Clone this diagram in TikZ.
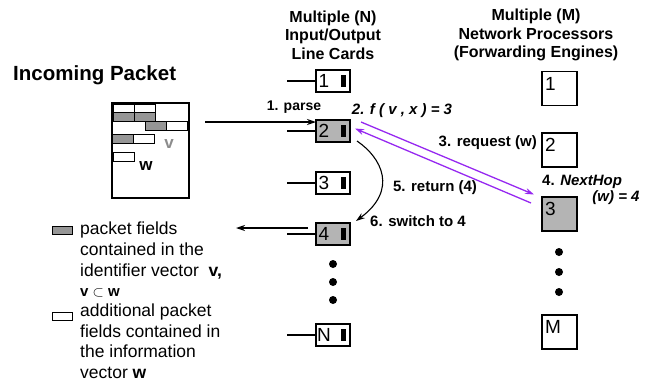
\documentclass[tikz,border=0pt]{standalone}
\usepackage{fontspec}
\setmainfont{Liberation Sans}
\usetikzlibrary{arrows.meta}
\definecolor{cardgray}{RGB}{180,180,180}
\definecolor{fieldgray}{RGB}{150,150,150}
\definecolor{vgray}{RGB}{140,140,140}
\definecolor{purp}{RGB}{150,40,240}
\newcommand{\fs}[2]{\fontsize{#1}{#2}\selectfont}
\tikzset{
  card/.style={draw, line width=1.2pt, minimum width=34pt, minimum height=22pt, inner sep=0pt},
  npbox/.style={draw, line width=1.2pt, minimum width=35pt, minimum height=34pt, inner sep=0pt},
  num/.style={inner sep=0pt, font=\fs{19}{22}},
  bar/.style={fill=black, minimum width=5pt, minimum height=12pt, inner sep=0pt},
  field/.style={draw, line width=1pt, minimum width=21pt, minimum height=9pt, inner sep=0pt},
  stub/.style={line width=1.6pt},
  hdr/.style={align=center, font=\bfseries\fs{16}{18.5}, inner sep=0pt},
  lbl/.style={font=\bfseries\fs{15}{18}, inner sep=0pt},
  leg/.style={align=left, anchor=north west, font=\fs{17.5}{20.8}, inner sep=0pt},
  arr/.style={line width=1.3pt, -{Stealth[length=9pt,width=6pt]}},
  parr/.style={line width=1.3pt, purp, -{Stealth[length=9pt,width=6pt]}},
  dot/.style={circle, fill=black, minimum size=8pt, inner sep=0pt}
}
\begin{document}
\begin{tikzpicture}[x=1pt,y=-1pt]
\useasboundingbox (0,0) rectangle (670,381);
% headers
\node[hdr] (hl) at (333,35) {Multiple (N)\\Input/Output\\Line Cards};
\node[hdr] (hr) at (536,35) {Multiple (M)\\Network Processors\\(Forwarding Engines)};
\node[font=\bfseries\fs{20.5}{24}, anchor=west, inner sep=0pt] (inc) at (13,75) {Incoming Packet};
% packet
\node[draw, line width=1.1pt, minimum width=77pt, minimum height=95pt, inner sep=0pt] (pkt) at (150.5,150.5) {};
\node[field] (f11) at (123.5,108.5) {};
\node[field] (f12) at (144.5,108.5) {};
\node[field, fill=fieldgray] (f21) at (123.5,117) {};
\node[field, fill=fieldgray] (f22) at (145,117) {};
\node[field, fill=fieldgray] (f31) at (155.5,126) {};
\node[field] (f32) at (176.5,126) {};
\node[field, fill=fieldgray] (f41) at (123,139) {};
\node[field] (f42) at (144,139) {};
\node[field] (f51) at (123.5,156.5) {};
\node[font=\bfseries\fs{17}{20}, text=vgray, inner sep=0pt] (vl) at (169,144) {v};
\node[font=\bfseries\fs{17}{20}, inner sep=0pt] (wl) at (146,166) {w};
% line cards
\foreach \n/\y/\t/\f in {c1/81/1/white, c2/131/2/cardgray, c3/183/3/white, c4/234/4/cardgray, cN/335/N/white}{
  \node[card, fill=\f] (\n) at (333,\y) {};
  \node[num] (\n t) at (324,\y) {\t};
  \node[bar] (\n b) at (343.5,\y) {};
  \coordinate (\n s) at (287,\y);
  \draw[stub] (\n s) -- (\n.west);
}
\node[dot] (d1) at (333,264) {};
\node[dot] (d2) at (333,282) {};
\node[dot] (d3) at (333,300) {};
% network processors
\foreach \n/\y/\t/\f in {p1/88.5/1/white, p2/150/2/white, p3/214/3/cardgray, pM/332/M/white}{
  \node[npbox, fill=\f] (\n) at (559.5,\y) {};
  \node[num, anchor=west] (\n t) at ([xshift=3.5pt,yshift=5pt]\n.west) {\t};
}
\node[dot] (e1) at (559,252) {};
\node[dot] (e2) at (559,272) {};
\node[dot] (e3) at (559,292) {};
% arrows
\coordinate (inS) at (205,122);
\coordinate (inE) at (316,122);
\draw[arr] (inS) -- (inE);
\node[lbl, font=\bfseries\fs{14}{17}] (parse) at (294,107) {1. parse};
\coordinate (outS) at (308,228);
\coordinate (outE) at (236,228);
\draw[arr] (outS) -- (outE);
\coordinate (rqS) at (361,122);
\coordinate (rqE) at (534,194.5);
\draw[parr] (rqS) -- (rqE);
\coordinate (rtS) at (531,203);
\coordinate (rtE) at (355,128.5);
\draw[parr] (rtS) -- (rtE);
\coordinate (swS) at (357,141);
\coordinate (swE) at (356,221);
\draw[arr, line width=1.1pt] (swS) .. controls (382,158) and (398,190) .. (swE);
% labels
\node[lbl, font=\bfseries\itshape\fs{15}{18}] (fl) at (402,111) {2. f ( v , x ) = 3};
\node[lbl, anchor=east] (rq) at (537,143) {3. request (w)};
\node[lbl] (rt) at (435,188) {5. return (4)};
\node[lbl] (sw) at (418,221) {6. switch to 4};
\node[lbl, anchor=west] (nh) at (542,182) {4. \textit{NextHop}};
\node[lbl, font=\bfseries\itshape\fs{15}{18}] (nh2) at (616,198) {(w) = 4};
% legend
\node[draw, line width=1pt, fill=fieldgray, minimum width=20pt, minimum height=8pt, inner sep=0pt] (lg1) at (62,230) {};
\node[leg] (lt1) at (80,222) {packet fields\\contained in the\\identifier vector\ \ \textbf{v,}\\[-1pt]{\fs{15}{18}\textbf{v} $\subset$ \textbf{w}}};
\node[draw, line width=1pt, minimum width=20pt, minimum height=8pt, inner sep=0pt] (lg2) at (62,316) {};
\node[leg] (lt2) at (80,303.5) {additional packet\\fields contained in\\the information\\vector \textbf{w}};
\end{tikzpicture}
\end{document}
